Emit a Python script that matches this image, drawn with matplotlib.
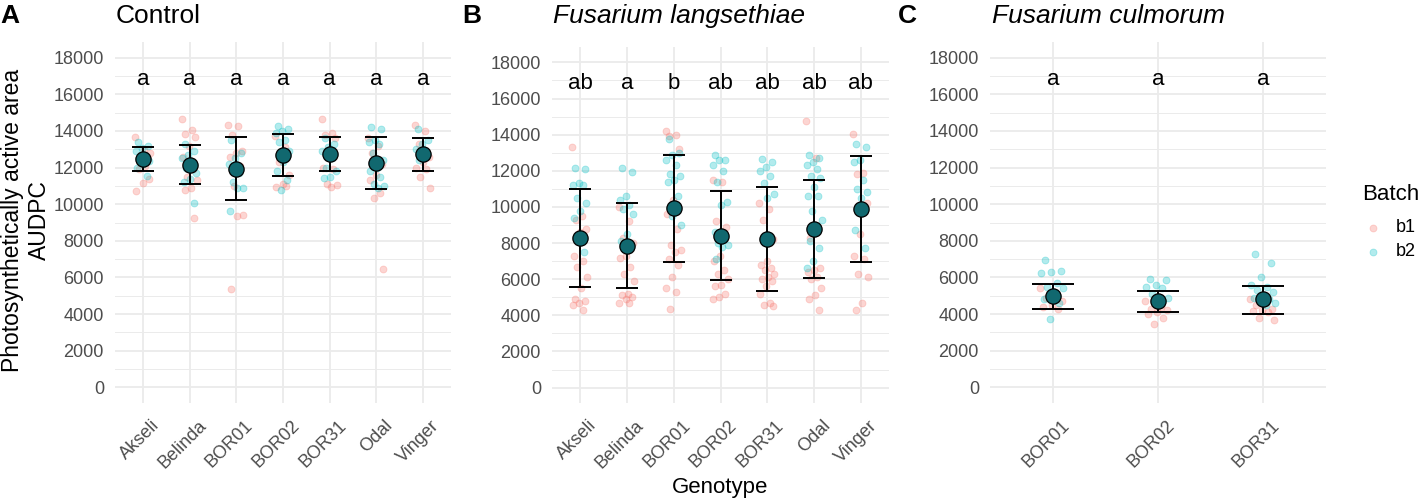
import numpy as np
import matplotlib
matplotlib.use("Agg")
import matplotlib.pyplot as plt
from matplotlib.lines import Line2D
from matplotlib.transforms import ScaledTranslation

plt.rcParams["font.family"] = ["Liberation Sans", "DejaVu Sans"]

genotypes = ["Akseli", "Belinda", "BOR01", "BOR02", "BOR31", "Odal", "Vinger"]
fc_genotypes = ["BOR01", "BOR02", "BOR31"]

# Control
ctrl_b1 = [
    [13650, 12100, 11900, 11380, 11150, 10730, 12500, 12300, 12800, 13000],
    [14650, 14050, 13850, 13650, 13200, 12600, 11900, 11500, 11300, 10870, 10800, 9240],
    [14300, 14250, 13800, 12900, 12800, 12600, 12100, 11000, 9400, 9350, 5360],
    [13700, 13100, 12300, 11600, 11100, 10960, 11000],
    [14650, 13900, 13800, 13600, 12900, 12000, 11900, 11100, 11050, 10950],
    [13600, 13200, 12800, 12200, 11600, 11300, 10600, 10360, 6450],
    [14330, 14000, 13300, 12600, 12300, 12000, 11900, 11470, 10900],
]
ctrl_b2 = [
    [13400, 13200, 13050, 12900, 12700, 12500, 12350, 12200, 12000, 11550, 12600],
    [13300, 12900, 12700, 12500, 12300, 12000, 11700, 11400, 11200, 10050],
    [13500, 12800, 12500, 12200, 11700, 11200, 10900, 10870, 9650],
    [14270, 14100, 14000, 13900, 13500, 13400, 12900, 12300, 11800, 11300, 10780],
    [13600, 13300, 13100, 12900, 12500, 12000, 11800, 11500, 11450],
    [14200, 14100, 13500, 13400, 13300, 12800, 12400, 12000, 11800, 11500, 11100, 11000, 10900],
    [14100, 13500, 13300, 13000, 12700, 12400],
]
ctrl_mean = [12470, 12145, 11925, 12690, 12725, 12270, 12725]
ctrl_lo = [11815, 11090, 10235, 11560, 11800, 10855, 11835]
ctrl_hi = [13145, 13235, 13655, 13815, 13670, 13690, 13615]
ctrl_letters = ["a", "a", "a", "a", "a", "a", "a"]

# Fusarium langsethiae
fl_b1 = [
    [13330, 9500, 9300, 8800, 8600, 7290, 7000, 6700, 6150, 5500, 4900, 4800, 4700, 4600, 4300],
    [10000, 9200, 8300, 8000, 7300, 7200, 6700, 6300, 5900, 5200, 5100, 5000, 4900, 4700, 4670],
    [14180, 14000, 13900, 13200, 10400, 9600, 8800, 7900, 7600, 7500, 7100, 6800, 6100, 5500, 5300, 4370],
    [11500, 11400, 9200, 8900, 7300, 7000, 6500, 6300, 6000, 5700, 5600, 5200, 5000, 4900],
    [10200, 9900, 9300, 8200, 7000, 6800, 6600, 6500, 6300, 6100, 6000, 5900, 5600, 5200, 4700, 4600, 4500],
    [14730, 12700, 8300, 6600, 6500, 6400, 6100, 6000, 5500, 5100, 4900, 4300],
    [14050, 11900, 11800, 10200, 8500, 7300, 7100, 6300, 6100, 4700, 4300],
]
fl_b2 = [
    [12180, 12100, 11350, 11200, 11200, 10500, 10200, 9800, 9400, 7480],
    [12180, 11960, 10600, 10400, 10100, 9900, 9600, 8500, 8100],
    [13750, 13000, 12900, 12600, 12300, 11800, 11700, 11500, 11400, 10600, 9500, 9010],
    [12870, 12600, 12600, 12300, 12000, 11400, 10300, 10100, 8600, 8300, 8000, 7900, 7800, 7100],
    [12650, 12500, 12200, 12000, 11700, 11300, 10700, 10500],
    [12900, 12700, 12500, 12300, 12100, 11700, 11600, 11100, 10600, 10600, 9800, 9300, 8900, 8100, 7700, 7000, 6600],
    [13500, 13300, 12600, 12500, 11500, 11000, 10800, 10500, 8700, 7700],
]
fl_mean = [8270, 7845, 9915, 8400, 8215, 8770, 9875]
fl_lo = [5595, 5520, 6960, 5945, 5335, 6075, 6960]
fl_hi = [10965, 10210, 12885, 10855, 11115, 11480, 12810]
fl_letters = ["ab", "a", "b", "ab", "ab", "ab", "ab"]

# Fusarium culmorum
fc_b1 = [
    [5400, 5100, 4900, 4700, 4500, 4400, 4300],
    [4700, 4400, 4300, 4200, 4100, 4000, 3800, 3440],
    [4800, 4600, 4500, 4300, 4200, 4150, 4100, 3800, 3660],
]
fc_b2 = [
    [6940, 6350, 6300, 6220, 5700, 5500, 5400, 5100, 4800, 4600, 3720],
    [5890, 5850, 5600, 5500, 5400, 5100, 4900, 4800],
    [7290, 6800, 6050, 5600, 5500, 5300, 5200, 5000, 4900, 4800, 4700, 4600, 4500],
]
fc_mean = [4985, 4695, 4805]
fc_lo = [4295, 4115, 4025]
fc_hi = [5655, 5260, 5550]
fc_letters = ["a", "a", "a"]

c_b1 = "#F8766D"
c_b2 = "#00BFC4"
c_mean = "#11686F"
grid_c = "#EBEBEB"
tick_c = "#4D4D4D"

W, H = 1420, 500
fig = plt.figure(figsize=(W / 100, H / 100), dpi=100)


def jitter(n, w, seed_shift=0.0):
    k = np.arange(n) + seed_shift
    return ((k * 0.6180339887) % 1.0 - 0.5) * 2 * w


def draw_panel(rect, cats, b1, b2, mean, lo, hi, letters, capsize, jw):
    ax = fig.add_axes(rect)
    n = len(cats)
    xs = np.arange(1, n + 1)
    ax.set_xlim(0.4, n + 0.6)
    ax.set_ylim(-850, 18850)
    for spine in ax.spines.values():
        spine.set_visible(False)
    ax.set_yticks(np.arange(0, 18001, 2000))
    ax.set_yticks(np.arange(1000, 18000, 2000), minor=True)
    ax.set_xticks(xs)
    ax.set_xticklabels(cats)
    ax.tick_params(axis="both", which="both", length=0, colors=tick_c, labelsize=13)
    ax.tick_params(axis="y", pad=8)
    ax.tick_params(axis="x", pad=10)
    ax.grid(True, which="major", color=grid_c, linewidth=1.3)
    ax.grid(True, which="minor", axis="y", color=grid_c, linewidth=0.7)
    ax.set_axisbelow(True)
    for lab in ax.get_xticklabels():
        lab.set_rotation(45)
        lab.set_rotation_mode("anchor")
        lab.set_ha("right")
        lab.set_va("top")
        lab.set_transform(lab.get_transform() + ScaledTranslation(0.08, 0, fig.dpi_scale_trans))

    for i in range(n):
        y1 = np.array(b1[i])
        y2 = np.array(b2[i])
        ax.plot(xs[i] + jitter(len(y1), jw), y1, "o", color=c_b1, ms=5, alpha=0.3, mew=0.6)
        ax.plot(xs[i] + jitter(len(y2), jw, 0.3), y2, "o", color=c_b2, ms=5, alpha=0.3, mew=0.6)

    mean = np.array(mean)
    err = [mean - np.array(lo), np.array(hi) - mean]
    ax.errorbar(xs, mean, yerr=err, fmt="none", ecolor="black", elinewidth=1.4,
                capsize=capsize, capthick=1.4, zorder=4)
    ax.plot(xs, mean, "o", ms=11, color=c_mean, mec="black", mew=0.9, zorder=5)

    for x, t in zip(xs, letters):
        ax.text(x, 16500, t, ha="center", va="baseline", fontsize=16, color="black")
    return ax


axA = draw_panel([115 / W, 1 - 403 / H, 336 / W, 361 / H], genotypes,
                 ctrl_b1, ctrl_b2, ctrl_mean, ctrl_lo, ctrl_hi, ctrl_letters, 8, 0.17)
axB = draw_panel([552 / W, 1 - 403 / H, 337 / W, 356 / H], genotypes,
                 fl_b1, fl_b2, fl_mean, fl_lo, fl_hi, fl_letters, 8, 0.17)
axC = draw_panel([990 / W, 1 - 403 / H, 336 / W, 361 / H], fc_genotypes,
                 fc_b1, fc_b2, fc_mean, fc_lo, fc_hi, fc_letters, 15, 0.12)

# panel titles and letters
ty = 1 - 23 / H
fig.text(0 / W, ty, "A", fontsize=19, fontweight="bold", va="baseline")
fig.text(462 / W, ty, "B", fontsize=19, fontweight="bold", va="baseline")
fig.text(898 / W, ty, "C", fontsize=19, fontweight="bold", va="baseline")
fig.text(116 / W, ty, "Control", fontsize=19, va="baseline")
fig.text(553 / W, ty, "Fusarium langsethiae", fontsize=19, style="italic", va="baseline")
fig.text(992 / W, ty, "Fusarium culmorum", fontsize=19, style="italic", va="baseline")

# axis titles
fig.text(26 / W, 1 - 220 / H, "Photosynthetically active area\nAUDPC", rotation=90,
         ha="center", va="center", fontsize=16.5, linespacing=1.2, multialignment="center")
fig.text(720 / W, 1 - 493 / H, "Genotype", ha="center", va="baseline", fontsize=16)

# legend
fig.text(1362 / W, 1 - 200 / H, "Batch", fontsize=16, va="baseline")
for yy, col, lab in [(228, c_b1, "b1"), (252, c_b2, "b2")]:
    fig.add_artist(Line2D([1373 / W], [1 - yy / H], marker="o", color=col, ms=5,
                          alpha=0.3, mew=0.6, linestyle="none", transform=fig.transFigure))
    fig.text(1396 / W, 1 - yy / H, lab, fontsize=13, va="center")

fig.savefig("out.png", dpi=100)
